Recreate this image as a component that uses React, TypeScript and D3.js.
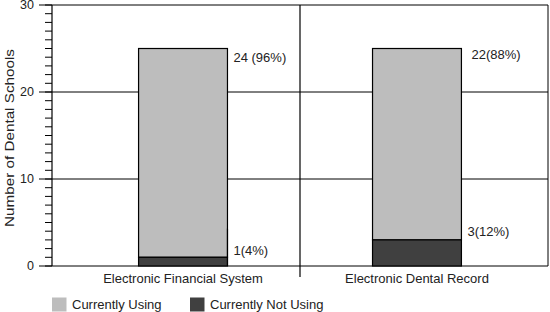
import React from "react";
import * as d3 from "d3";

const categories = ["Electronic Financial System", "Electronic Dental Record"];
const usingValues = [24, 22];
const notUsingValues = [1, 3];
const usingLabels = ["24 (96%)", "22(88%)"];
const notUsingLabels = ["1(4%)", "3(12%)"];
const seriesNames = ["Currently Using", "Currently Not Using"];
const seriesColors = ["#bdbdbd", "#404040"];
const yMajorTicks = [0, 10, 20, 30];

const W = 550;
const H = 312;
const left = 52;
const right = 548;
const top = 5;
const bottom = 266;
const font = "Liberation Sans, Arial, Helvetica, sans-serif";
const usingLabelDx = [6, 10];
const usingLabelDy = [9, 5.5];
const notUsingLabelDy = [-7, -8];

export default function App() {
  const y = d3.scaleLinear().domain([0, 30]).range([bottom, top]);
  const x = d3
    .scaleBand<string>()
    .domain(categories)
    .range([left, right])
    .paddingInner(0.62)
    .paddingOuter(0.37);
  const panel = d3.scaleBand<string>().domain(categories).range([left, right]);
  const minor = d3.range(0, 31, 1);
  const bw = x.bandwidth();

  return (
    <svg
      width={W}
      height={H}
      style={{ position: "absolute", left: 0, top: 0, fontFamily: font }}
    >
      <rect x={0} y={0} width={W} height={H} fill="#fff" />
      {yMajorTicks.map((t) => (
        <line key={"g" + t} x1={left} x2={right} y1={y(t)} y2={y(t)} stroke="#000" strokeWidth={1} />
      ))}
      <line x1={left} x2={left} y1={top} y2={bottom} stroke="#000" strokeWidth={1.2} />
      <line x1={right} x2={right} y1={top} y2={bottom} stroke="#000" strokeWidth={1} />
      <line
        x1={panel(categories[1])}
        x2={panel(categories[1])}
        y1={top}
        y2={bottom + 11}
        stroke="#000"
        strokeWidth={1.2}
      />
      {minor.map((t) => (
        <line key={"m" + t} x1={left - 7} x2={left} y1={y(t)} y2={y(t)} stroke="#000" strokeWidth={1} />
      ))}
      {yMajorTicks.map((t) => (
        <g key={"t" + t}>
          <line x1={left - 13} x2={left} y1={y(t)} y2={y(t)} stroke="#000" strokeWidth={1} />
          <text x={left - 18} y={y(t)} dy="0.35em" textAnchor="end" fontSize={12.5} fill="#222">
            {t}
          </text>
        </g>
      ))}
      {categories.map((c, i) => {
        const bx = x(c) as number;
        return (
          <g key={c}>
            <rect
              x={bx}
              y={y(usingValues[i] + notUsingValues[i])}
              width={bw}
              height={y(notUsingValues[i]) - y(usingValues[i] + notUsingValues[i])}
              fill={seriesColors[0]}
              stroke="#000"
              strokeWidth={1.2}
            />
            <rect
              x={bx}
              y={y(notUsingValues[i])}
              width={bw}
              height={y(0) - y(notUsingValues[i])}
              fill={seriesColors[1]}
              stroke="#000"
              strokeWidth={1.2}
            />
            <text
              x={bx + bw + usingLabelDx[i]}
              y={y(usingValues[i] + notUsingValues[i]) + usingLabelDy[i]}
              dy="0.35em"
              fontSize={13}
              fill="#222"
            >
              {usingLabels[i]}
            </text>
            <text
              x={bx + bw + 6}
              y={y(notUsingValues[i]) + notUsingLabelDy[i]}
              dy="0.35em"
              fontSize={13}
              fill="#222"
            >
              {notUsingLabels[i]}
            </text>
            <text
              x={bx + bw / 2}
              y={bottom + 12}
              dy="0.35em"
              textAnchor="middle"
              fontSize={13}
              fill="#222"
            >
              {c}
            </text>
          </g>
        );
      })}
      <line
        x1={(x(categories[0]) as number) + bw}
        x2={(x(categories[0]) as number) + bw}
        y1={y(4.3)}
        y2={y(0)}
        stroke="#000"
        strokeWidth={1.2}
      />
      <text
        transform={`translate(9,138) rotate(-90)`}
        textAnchor="middle"
        dy="0.35em"
        fontSize={13}
        textLength={178}
        lengthAdjust="spacingAndGlyphs"
        fill="#222"
      >
        Number of Dental Schools
      </text>
      {seriesNames.map((s, i) => {
        const lx = i === 0 ? 52 : 190;
        return (
          <g key={s}>
            <rect x={lx} y={297.5} width={14.5} height={14} fill={seriesColors[i]} />
            <text x={lx + 20} y={304.5} dy="0.35em" fontSize={13} fill="#222">
              {s}
            </text>
          </g>
        );
      })}
    </svg>
  );
}
